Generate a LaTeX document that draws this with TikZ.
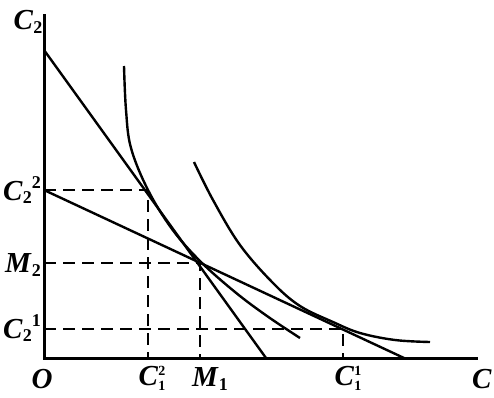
\documentclass[tikz,border=0pt]{standalone}
\usepackage{fontspec}
\setmainfont{Liberation Serif}
\newcommand\glab[2]{\textbf{\textit{#1}}\raisebox{-0.12em}{\fontsize{18}{18}\selectfont\textbf{#2}}}
\newcommand\gstack[3]{\textbf{\textit{#1}}\raisebox{-0.18em}{\fontsize{14}{14}\selectfont\bfseries\shortstack[l]{#3\\[2pt]#2}}}
\newcommand\glabb[3]{\textbf{\textit{#1}}\raisebox{-0.12em}{\fontsize{18}{18}\selectfont\textbf{#2}}\raisebox{0.42em}{\fontsize{18}{18}\selectfont\textbf{#3}}}
\begin{document}
\begin{tikzpicture}[x=1pt,y=-1pt,
  axis/.style={line width=3pt},
  budget/.style={line width=2.4pt},
  icurve/.style={line width=2.4pt},
  guide/.style={line width=2.4pt, dash pattern=on 12pt off 7pt},
  lab/.style={font=\fontsize{29}{34}\selectfont, inner sep=0pt}]
\useasboundingbox (0,0) rectangle (494,397);
% points
\coordinate (O) at (44,358);
\coordinate (ytop) at (44,14);
\coordinate (xend) at (478,358);
\coordinate (A1) at (44,50);
\coordinate (A2) at (266,358);
\coordinate (B1) at (44,190);
\coordinate (B2) at (404,358);
\coordinate (P2) at (148,190);
\coordinate (PM) at (200,263);
\coordinate (P1) at (343,329);
% axes
\draw[axis] (ytop) -- (O) -- (xend);
% budget lines
\draw[budget] (A1) -- (A2);
\draw[budget] (B1) -- (B2);
% indifference curves
\draw[icurve] plot[smooth, tension=0.6] coordinates {(124,66) (126,110) (131,148) (148,190) (172,229) (200,261) (235,292) (267,316) (300,338)};
\draw[icurve] plot[smooth, tension=0.6] coordinates {(194,162) (213,200) (240,245) (273,283) (300,306) (333,322) (360,333) (395,340) (430,342)};
% guides
\draw[guide] (B1) -- (P2) -- (P2 |- O);
\draw[guide] (O |- PM) -- (PM) -- (PM |- O);
\draw[guide] (O |- P1) -- (P1) -- (P1 |- O);
% labels
\node[lab] (lC2) at (28,22) {\glab{C}{2}};
\node[lab, anchor=east] (lC22) at (41,190) {\glabb{C}{2}{2}};
\node[lab, anchor=east] (lM2) at (41,265) {\glab{M}{2}};
\node[lab, anchor=east] (lC21) at (41,328) {\glabb{C}{2}{1}};
\node[lab] (lO) at (42,379) {\textbf{\textit{O}}};
\node[lab] (lC12) at (152,378) {\gstack{C}{1}{2}};
\node[lab] (lM1) at (210,379) {\glab{M}{1}};
\node[lab] (lC11) at (348,378) {\gstack{C}{1}{1}};
\node[lab] (lC) at (482,379) {\textbf{\textit{C}}};
\end{tikzpicture}
\end{document}
